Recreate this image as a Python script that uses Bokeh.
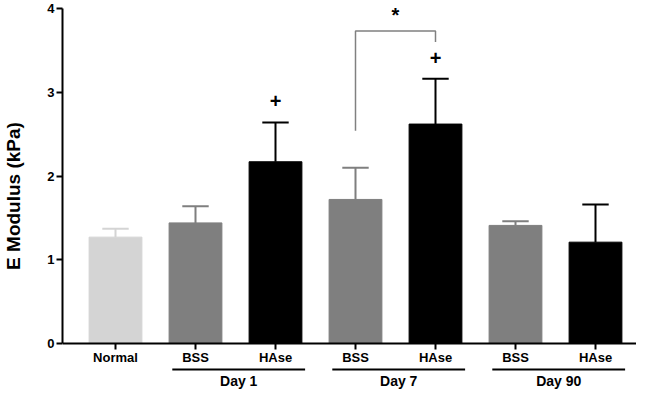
from bokeh.plotting import figure
from bokeh.models import Range1d, FixedTicker, Span, ColumnDataSource
from bokeh.core.properties import value
from bokeh.embed import file_html
from bokeh.resources import INLINE

# ---- data ----
categories = ["Normal", "BSS", "HAse", "BSS", "HAse", "BSS", "HAse"]
means = [1.27, 1.44, 2.17, 1.72, 2.62, 1.41, 1.21]
errors = [0.10, 0.20, 0.47, 0.38, 0.54, 0.05, 0.45]
bar_colors = ["#d4d4d4", "#7f7f7f", "#000000", "#7f7f7f", "#000000", "#7f7f7f", "#000000"]
groups = ["Day 1", "Day 7", "Day 90"]
group_first = [1, 3, 5]
group_last = [2, 4, 6]
plus_index = [2, 4]
plus_y = [2.90, 3.41]
bracket_left, bracket_right = 3, 4
bracket_top = 3.73
bracket_left_bottom = 2.54
bracket_right_bottom = 3.60
star_y = 3.92
y_ticks = [0, 1, 2, 3, 4]

FONT = "Liberation Sans"
Y0 = 343      # pixel row of value 0
Y4 = 8        # pixel row of value 4
H = 391
PX = (Y0 - Y4) / 4.0

xs = list(range(len(categories)))
tops = [m + e for m, e in zip(means, errors)]

p = figure(width=636, height=H, output_backend="svg", toolbar_location=None,
           x_range=Range1d(-0.6625, 6.5125),
           y_range=Range1d(-(H - Y0) / PX, 4 + Y4 / PX),
           x_axis_location=None, min_border_left=62, min_border_right=0,
           min_border_top=0, min_border_bottom=0)
p.grid.visible = False
p.outline_line_color = None
p.background_fill_color = "white"

ax = p.yaxis[0]
ax.ticker = FixedTicker(ticks=y_ticks)
ax.bounds = (0, 4)
ax.axis_line_width = 2
ax.axis_line_color = "black"
ax.major_tick_line_width = 2
ax.major_tick_line_color = "black"
ax.major_tick_out = 6
ax.major_tick_in = 0
ax.minor_tick_line_color = None
ax.major_label_standoff = 2
ax.major_label_text_font = FONT
ax.major_label_text_font_style = "bold"
ax.major_label_text_font_size = "13px"
ax.major_label_text_color = "black"
ax.axis_label = "E Modulus (kPa)"
ax.axis_label_text_font = FONT
ax.axis_label_text_font_style = "bold"
ax.axis_label_text_font_size = "19px"
ax.axis_label_text_color = "black"
ax.axis_label_standoff = 20

src = ColumnDataSource(dict(x=xs, top=means, tops=tops, color=bar_colors,
                            cl=[x - 0.165 for x in xs], cr=[x + 0.165 for x in xs]))
p.vbar(x="x", top="top", width=0.66, bottom=0, color="color", source=src)
p.segment(x0="x", y0="top", x1="x", y1="tops", line_color="color", line_width=2, source=src)
p.segment(x0="cl", y0="tops", x1="cr", y1="tops", line_color="color", line_width=2, source=src)

# x axis line, ticks and labels
p.add_layout(Span(location=0, dimension="width", line_color="black", line_width=2))
p.segment(x0=xs, y0=[0] * len(xs), x1=xs, y1=[-6 / PX] * len(xs), line_color="black", line_width=2)
p.text(x=xs, y=[-14 / PX] * len(xs), text=categories, text_align="center", text_baseline="middle",
       text_font=value(FONT), text_font_style="bold", text_font_size="13px", text_color="black")

# group lines and labels
mids = [(a + b) / 2 + 0.04 for a, b in zip(group_first, group_last)]
p.segment(x0=[m - 0.83 for m in mids], y0=[-26 / PX] * 3, x1=[m + 0.83 for m in mids], y1=[-26 / PX] * 3,
          line_color="black", line_width=2)
p.text(x=mids, y=[-37 / PX] * 3, text=groups, text_align="center", text_baseline="middle",
       text_font=value(FONT), text_font_style="bold", text_font_size="14px", text_color="black")

# significance marks
p.text(x=plus_index, y=plus_y, text=["+"] * len(plus_index), text_align="center", text_baseline="middle",
       text_font=value(FONT), text_font_style="bold", text_font_size="20px", text_color="black")
p.line(x=[bracket_left, bracket_left, bracket_right, bracket_right],
       y=[bracket_left_bottom, bracket_top, bracket_top, bracket_right_bottom],
       line_color="#808080", line_width=1.5)
p.text(x=[(bracket_left + bracket_right) / 2], y=[star_y], text=["*"], text_align="center",
       text_baseline="middle", text_font=value(FONT), text_font_style="bold", text_font_size="20px",
       text_color="black")

open("out.html", "w").write(file_html(p, INLINE))
